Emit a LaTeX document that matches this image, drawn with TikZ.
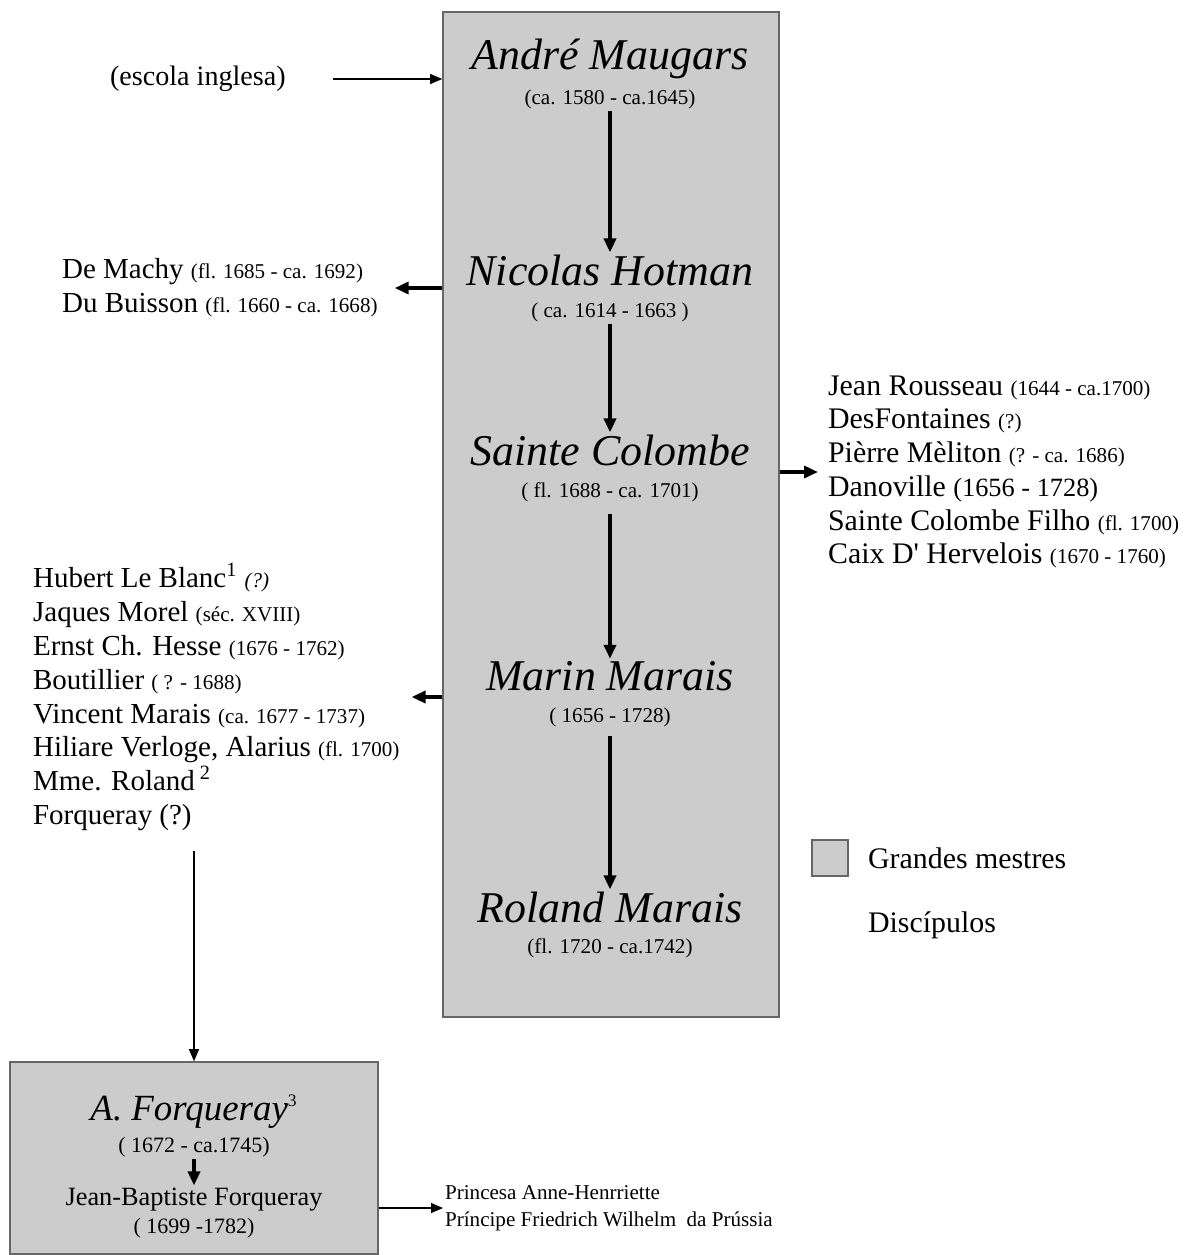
\documentclass[tikz,border=0pt]{standalone}
\usepackage{fontspec}
\setmainfont{Liberation Serif}
\usetikzlibrary{arrows.meta,positioning,calc,fit}
\newcommand{\ano}[1]{{\fontsize{12}{12}\selectfont #1}}
\tikzset{
  >={Triangle[length=2.8mm,width=2.4mm]},
  % caixas dos mestres
  mestre/.style={draw=black!60,fill=black!20,line width=0.9pt,inner sep=0pt},
  nome/.style={font=\fontsize{25}{28}\selectfont\itshape,inner sep=1pt,anchor=base},
  datas/.style={font=\fontsize{12}{13}\selectfont,inner sep=1pt,anchor=base},
  % discipulos
  lista/.style={align=left,anchor=west,inner sep=1pt,font=\fontsize{16.5}{19.3}\selectfont},
  % setas
  seta/.style={->,line width=2pt},
  setafina/.style={-{Triangle[length=2.4mm,width=2mm]},line width=0.6pt},
}
\begin{document}
\begin{tikzpicture}[x=0.02cm,y=-0.02cm]
  \useasboundingbox (0,0) rectangle (1187,1255);
  \coordinate (c1) at (443,12);
  \coordinate (c2) at (779,1017);
  \node[mestre,fit=(c1)(c2)] (caixa) {};
  \coordinate (f1) at (10,1062);
  \coordinate (f2) at (378,1254);
  \node[mestre,fit=(f1)(f2)] (forq) {};
  % grandes mestres
  \node[nome] (maugars) at (610,69) {André Maugars};
  \node[datas] (maugarsd) at (610,104) {(ca. 1580 - ca.1645)};
  \node[nome] (hotman) at (610,285) {Nicolas Hotman};
  \node[datas] (hotmand) at (610,317) {( ca. 1614 - 1663 )};
  \node[nome] (colombe) at (610,465) {Sainte Colombe};
  \node[datas] (colombed) at (610,497) {( fl. 1688 - ca. 1701)};
  \node[nome] (marin) at (610,690) {Marin Marais};
  \node[datas] (marind) at (610,722) {( 1656 - 1728)};
  \node[nome] (roland) at (610,922) {Roland Marais};
  \node[datas] (rolandd) at (610,953) {(fl. 1720 - ca.1742)};
  \draw[seta] (maugarsd) -- (hotman);
  \draw[seta] (hotmand) -- (colombe);
  \draw[seta,shorten <=6pt] (colombed) -- (marin);
  \draw[seta,shorten <=4pt] (marind) -- (roland);
  % discipulos
  \node[lista,font=\fontsize{16}{19}\selectfont] (escola) at (108,79) {(escola inglesa)};
  \node[lista] (machy) at (60,288) {De Machy \ano{(fl. 1685 - ca. 1692)}\\
    Du Buisson \ano{(fl. 1660 - ca. 1668)}};
  \node[lista,font=\fontsize{17}{19.2}\selectfont] (direita) at (826,472)
    {Jean Rousseau \ano{(1644 - ca.1700)}\\
     DesFontaines \ano{(?)}\\
     Pièrre Mèliton \ano{(? - ca. 1686)}\\
     Danoville {\fontsize{15}{15}\selectfont(1656 - 1728)}\\
     Sainte Colombe Filho \ano{(fl. 1700)}\\
     Caix D\textquotesingle\ Hervelois \ano{(1670 - 1760)}};
  \node[lista] (esquerda) at (31,697)
    {Hubert Le Blanc\textsuperscript{1} \ano{\itshape (?)}\\
     Jaques Morel \ano{(séc. XVIII)}\\
     Ernst Ch. Hesse \ano{(1676 - 1762)}\\
     Boutillier \ano{( ? - 1688)}\\
     Vincent Marais \ano{(ca. 1677 - 1737)}\\
     Hiliare Verloge, Alarius \ano{(fl. 1700)}\\
     Mme. Roland\,\textsuperscript{2}\\
     Forqueray (?)};
  \draw[setafina] ($(escola.east)+(45,0)$) -- (escola -| caixa.west);
  \draw[seta,shorten >=3mm] (caixa.west |- machy) -- (machy.east);
  \draw[seta,shorten >=1.6mm] (caixa.east |- direita) -- (direita.west);
  \draw[seta,shorten >=2mm] (caixa.west |- esquerda) -- (esquerda.east);
  \draw[setafina,shorten <=3.5mm] (esquerda.south -| forq.north) -- (forq.north);
  % Forqueray
  \node[nome,font=\fontsize{21}{24}\selectfont\itshape] (aforq) at (194,1120)
    {A. Forqueray\textsuperscript{\upshape\fontsize{10}{10}\selectfont 3}};
  \node[datas,font=\fontsize{12.5}{14}\selectfont] (aforqd) at (194,1152) {( 1672 - ca.1745)};
  \node[datas,font=\fontsize{15}{17}\selectfont] (jbforq) at (194,1205) {Jean-Baptiste Forqueray};
  \node[datas,font=\fontsize{12.5}{14}\selectfont] (jbforqd) at (194,1233) {( 1699 -1782)};
  \draw[seta] (aforqd) -- (jbforq);
  \node[lista,font=\fontsize{12}{15.3}\selectfont] (princ) at (443,1208)
    {Princesa Anne-Henrriette\\ Príncipe Friedrich Wilhelm\ \ da Prússia};
  \draw[setafina] (forq.east |- princ) -- (princ.west);
  % legenda
  \node[mestre,minimum size=0.72cm] (legenda) at (830,858) {};
  \node[lista,font=\fontsize{17}{19}\selectfont] (leg1) at (866,858) {Grandes mestres};
  \node[lista,font=\fontsize{17}{19}\selectfont] (leg2) at (866,925) {Discípulos};
\end{tikzpicture}
\end{document}
